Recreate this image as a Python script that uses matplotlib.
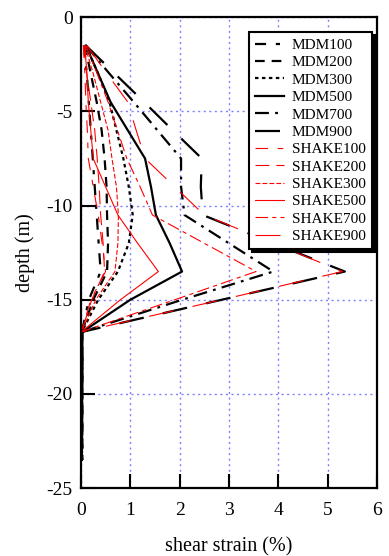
import matplotlib
matplotlib.use("Agg")
import matplotlib.pyplot as plt

plt.rcParams['font.family'] = ['Liberation Serif', 'DejaVu Serif']
plt.rcParams['lines.scale_dashes'] = False
plt.rcParams['axes.unicode_minus'] = False

# depth of the sublayer nodes (m)
depth = [-1.5, -3.0, -4.5, -6.0, -7.5, -9.0, -10.5, -12.0, -13.5, -15.0, -16.7, -23.5]

# shear strain (%) at each node
mdm100 = [0.06, 0.12, 0.16, 0.20, 0.24, 0.28, 0.32, 0.36, 0.40, 0.16, 0.02, 0.03]
mdm200 = [0.08, 0.20, 0.32, 0.42, 0.48, 0.52, 0.53, 0.55, 0.53, 0.25, 0.02, 0.03]
mdm300 = [0.10, 0.35, 0.58, 0.72, 0.86, 0.97, 1.05, 0.97, 0.75, 0.35, 0.02, 0.02]
mdm500 = [0.10, 0.35, 0.60, 0.95, 1.30, 1.42, 1.52, 1.80, 2.05, 1.00, 0.03, 0.02]
mdm700 = [0.10, 0.58, 1.07, 1.55, 2.03, 2.03, 2.10, 3.00, 3.90, 2.05, 0.03, 0.02]
mdm900 = [0.10, 0.69, 1.28, 1.86, 2.45, 2.43, 2.47, 3.90, 5.35, 2.85, 0.03, 0.02]
shake100 = [0.05, 0.08, 0.10, 0.13, 0.15, 0.25, 0.35, 0.43, 0.50, 0.20, 0.01, 0.01]
shake200 = [0.06, 0.12, 0.20, 0.28, 0.33, 0.37, 0.40, 0.45, 0.48, 0.22, 0.01, 0.01]
shake300 = [0.08, 0.25, 0.40, 0.55, 0.63, 0.72, 0.76, 0.75, 0.69, 0.30, 0.01, 0.01]
shake500 = [0.08, 0.12, 0.15, 0.20, 0.25, 0.50, 0.75, 1.15, 1.57, 0.80, 0.01, 0.01]
shake700 = [0.10, 0.33, 0.55, 0.74, 0.93, 1.20, 1.45, 2.50, 3.55, 1.90, 0.01, 0.01]
shake900 = [0.12, 0.53, 0.95, 1.12, 1.30, 1.90, 2.50, 3.90, 5.30, 2.85, 0.01, 0.01]

fig = plt.figure(figsize=(3.89, 5.56), dpi=100)
ax = fig.add_axes([0.208, 0.122, 0.761, 0.847])

ax.grid(True, color='#8080ff', linestyle=(0, (1.5, 2.5)), linewidth=1.0)
ax.set_axisbelow(True)

ax.plot(mdm100, depth, color='k', lw=1.6, ls=(0, (8, 7, 3, 7)), label='MDM100')
ax.plot(mdm200, depth, color='k', lw=1.6, ls=(0, (7, 5)), label='MDM200')
ax.plot(mdm300, depth, color='k', lw=1.6, ls=(0, (2.5, 2.5)), label='MDM300')
ax.plot(mdm500, depth, color='k', lw=1.6, ls='-', label='MDM500')
ax.plot(mdm700, depth, color='k', lw=1.6, ls=(0, (10, 4.5, 2, 4.5)), label='MDM700')
ax.plot(mdm900, depth, color='k', lw=1.6, ls=(0, (18, 14)), label='MDM900')
ax.plot(shake100, depth, color='r', lw=0.8, ls=(0, (9, 7, 4, 7)), label='SHAKE100')
ax.plot(shake200, depth, color='r', lw=0.8, ls=(0, (10, 5)), label='SHAKE200')
ax.plot(shake300, depth, color='r', lw=0.8, ls=(0, (3.5, 1.5)), label='SHAKE300')
ax.plot(shake500, depth, color='r', lw=0.8, ls='-', label='SHAKE500')
ax.plot(shake700, depth, color='r', lw=0.8, ls=(0, (9, 3, 3, 3)), label='SHAKE700')
ax.plot(shake900, depth, color='r', lw=0.8, ls=(0, (18, 14)), label='SHAKE900')

ax.set_xlim(0, 6)
ax.set_ylim(-25, 0)
ax.set_xticks(range(0, 7))
ax.set_yticks(range(-25, 1, 5))
ax.tick_params(direction='in', length=10, width=1.5, labelsize=14)
ax.tick_params(axis='x', pad=10)
ax.tick_params(axis='y', pad=6)
for s in ax.spines.values():
    s.set_linewidth(1.6)

ax.set_xlabel('shear strain (%)', fontsize=14.5, labelpad=13)
ax.set_ylabel('depth (m)', fontsize=14.5, labelpad=8)

leg = ax.legend(loc='upper right', bbox_to_anchor=(0.983, 0.968), borderaxespad=0,
                fontsize=11, handlelength=1.9, labelspacing=0.24, fancybox=False,
                framealpha=1, edgecolor='k', shadow={'color': 'k', 'alpha': 1.0},
                borderpad=0.4, handletextpad=0.5)
leg.get_frame().set_linewidth(1.5)

fig.savefig('out.png', dpi=100)
